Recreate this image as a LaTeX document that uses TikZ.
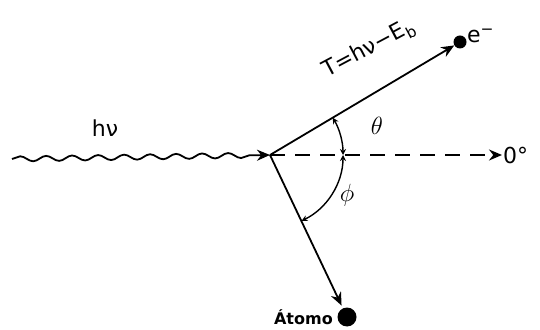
\documentclass[tikz,border=0pt]{standalone}
\usepackage{fontspec}
\setmainfont{DejaVu Sans}
\usetikzlibrary{positioning,arrows.meta,decorations.pathmorphing}

\begin{document}
\begin{tikzpicture}[
  x=1pt, y=1pt,
  ray/.style={line width=1.8pt, -{Stealth[length=13pt,width=11pt]}},
  wave/.style={line width=1.8pt, decorate, decoration={snake, amplitude=2.6pt, segment length=26pt, post length=14pt}, -{Stealth[length=13pt,width=11pt]}},
  axis/.style={line width=1.8pt, dash pattern=on 15pt off 10pt, -{Stealth[length=13pt,width=11pt]}},
  angarc/.style={line width=1.4pt, {Stealth[length=6pt,width=6pt]}-{Stealth[length=6pt,width=6pt]}},
  dot/.style={circle, fill=black, inner sep=0pt, minimum size=#1},
  lbl/.style={font=\fontsize{22}{24}\selectfont, inner sep=1pt}
]
\useasboundingbox (0,0) rectangle (540,329);

\coordinate (O) at (270,174);
\coordinate (wavestart) at (12,170);
\coordinate (zerodeg) at (502,174);
\node[dot=13pt] (electron) at (460,287) {};
\node[dot=19pt] (atom) at (347,12) {};

\draw[wave] (wavestart) -- (O);
\draw[axis] (O) -- (zerodeg);
\draw[ray] (O) -- (electron);
\draw[ray, shorten >=3pt] (O) -- (atom);

\draw[angarc] (343,174) arc[start angle=0, end angle=30.7, radius=73];
\draw[angarc] (343,174) arc[start angle=0, end angle=-64.4, radius=73];

\node[lbl] (hnu) at (105,201) {hν};
\node[lbl, rotate=28] (energy) at (369,280) {T=hν−E\textsubscript{b}};
\node[lbl, anchor=south west] (elabel) at (466,285) {e\textsuperscript{−}};
\node[lbl, anchor=west] (zerolabel) at (zerodeg) {0°};
\node[lbl, font=\fontsize{28}{30}\selectfont] (theta) at (377,203) {$\theta$};
\node[lbl, font=\fontsize{28}{30}\selectfont] (phi) at (347,134) {$\phi$};
\node[font=\fontsize{16}{18}\selectfont\bfseries, left=1pt of atom] (atomlabel) {Átomo};
\end{tikzpicture}
\end{document}
